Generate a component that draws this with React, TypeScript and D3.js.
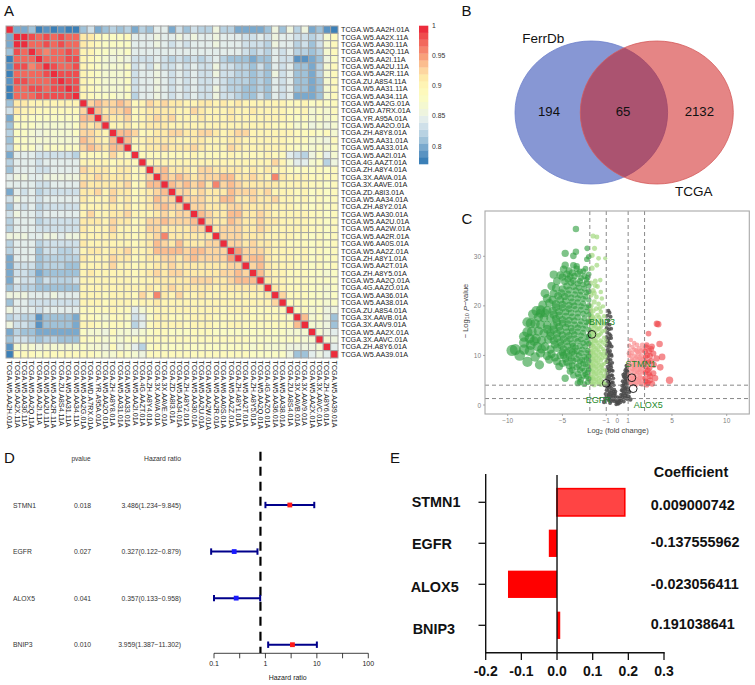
import React from "react";
import * as d3 from "d3";

const FONT = "'Liberation Sans', Arial, sans-serif";

// ---------- A: heat map ----------
const samples = [
  "TCGA.W5.AA2H.01A","TCGA.W5.AA2X.11A","TCGA.W5.AA30.11A","TCGA.W5.AA2Q.11A","TCGA.W5.AA2I.11A",
  "TCGA.W5.AA2U.11A","TCGA.W5.AA2R.11A","TCGA.ZU.A8S4.11A","TCGA.W5.AA31.11A","TCGA.W5.AA34.11A",
  "TCGA.W5.AA2G.01A","TCGA.WD.A7RX.01A","TCGA.YR.A95A.01A","TCGA.W5.AA2O.01A","TCGA.ZH.A8Y8.01A",
  "TCGA.W5.AA31.01A","TCGA.W5.AA33.01A","TCGA.W5.AA2I.01A","TCGA.4G.AAZT.01A","TCGA.ZH.A8Y4.01A",
  "TCGA.3X.AAVA.01A","TCGA.3X.AAVE.01A","TCGA.ZD.A8I3.01A","TCGA.W5.AA34.01A","TCGA.ZH.A8Y2.01A",
  "TCGA.W5.AA30.01A","TCGA.W5.AA2U.01A","TCGA.W5.AA2W.01A","TCGA.W5.AA2R.01A","TCGA.W6.AA0S.01A",
  "TCGA.W5.AA2Z.01A","TCGA.ZH.A8Y1.01A","TCGA.W5.AA2T.01A","TCGA.ZH.A8Y5.01A","TCGA.W5.AA2Q.01A",
  "TCGA.4G.AAZO.01A","TCGA.W5.AA36.01A","TCGA.W5.AA38.01A","TCGA.ZU.A8S4.01A","TCGA.3X.AAVB.01A",
  "TCGA.3X.AAV9.01A","TCGA.W5.AA2X.01A","TCGA.3X.AAVC.01A","TCGA.ZH.A8Y6.01A","TCGA.W5.AA39.01A",
];
// Upper triangle of the correlation matrix: each row starts
// at the diagonal, each letter is one step of the colour bar (a = lowest, t = 1).
const corrRows = [
  "tccdababaadfcdedecedggcfdfeeheeccccdhdhehcdba",
  "ttsrsrsrrmmkjjjkggghgghghgghgggffgfhggffefik",
  "trrsrsrrmlkjjjjggghgfgfggghgggfffehggefdfik",
  "trqrrsrlljjiijgggggggggggggggfefegfgeedeik",
  "trrrsslkjihihfffgfefefefgedddcddgffbbcdhj",
  "tsrrslkjiiijfgfhffgfgffhffeedfdgfgddceik",
  "tssslkjiiijfgghgfgfgffhffeededhfgddceik",
  "tsslkjiiijfgghgfgfgffgfeeededgfgddcdik",
  "tslkjiiijfgghgfgfgffhfeeddedgfgddcdik",
  "tlkjjjijegghgfgfgffhffeddfdgfgcccdik",
  "tnonnonklnmnmmllmmlmlmllllllkkljkjk",
  "tomnnoklmmmmllnmlllmllmllllkklijik",
  "tnmmnklmnmnlllmlllmlllllllkjkijij",
  "tllmklmmmllllllllllllllkkkijhihi",
  "toonklmmnnmmnnmlmnnllllllkkkjkik",
  "tollmmmmllmmlllmmllllllkkkiihk",
  "tklmmnmmmnmlllnmllllllkjjijij",
  "tkkkkkkklkkkklkkkklkkgfehjgi",
  "tlllllllllllllllllnliggijeh",
  "tnommmlnnmmmmlmlmllkjkjkjk",
  "tononmnnnoommnmlqmlllkkkk",
  "tononomqnonmmmmmllllkkjk",
  "tnnmnmmmonnnmnlllkljkjk",
  "tnnnmmoommnmmnllkljkjk",
  "tnnmmmnnmmmmlllkkjkjk",
  "tonmmoommnmlllllkkjk",
  "tnmmonmmnmmllllkkjk",
  "tmnnnmmnmlllllkkjk",
  "tnnnmmmllllkkjkjk",
  "tnnmnmmllkkkjkjk",
  "tpnnnmlllkljkjk",
  "tnoomlllkljkjk",
  "tnomlllkkjkjk",
  "tomllkkkjjij",
  "tmllkkkjjjj",
  "tmlkkkjjij",
  "tnkkkjjij",
  "tkkkjjij",
  "tjkijhh",
  "toijhd",
  "tiihd",
  "tihg",
  "tih",
  "tg",
  "t",
];
// Colour bar steps, lowest first.
const stepColors = [
  "#3b7fb7","#5a93c2","#7aa9cd","#9fc2d9","#b8d2e2","#cfe0e9","#e3edeb","#eef4de","#f4f8d0","#fafbc4",
  "#fdf9bc","#fef4b4","#feeaa9","#fdd6a0","#fbbd8f","#f8a07a","#f5846c","#f2685c","#ef4c4e","#ec2c3c",
];
const stepKeys = "abcdefghijklmnopqrst";
const barTicks = [1, 0.95, 0.9, 0.85, 0.8];

// ---------- B: Venn ----------
const vennNames = ["FerrDb", "TCGA"];
const vennCounts = [194, 65, 2132];

// ---------- C: volcano ----------
const volcanoXTicks = [-10, -5, -1, 0, 1, 5, 10];
const volcanoYTicks = [0, 10, 20, 30];
const fcCuts = [-2.5, -1, 1, 2.5];
const pCuts = [4, 1.3];
const downStrong: [number, number][] = [
  [-3.77,35.5],[-2.74,31.6],[-4.75,30.6],[-4.0,30.1],[-3.77,30.9],[-2.77,29.4],[-2.6,29.9],[-4.75,28.2],[-4.0,28.2],[-3.7,27.5],
  [-5.8,26.3],[-5.2,26.2],[-4.3,25.9],[-3.4,26.9],[-6.6,22.5],[-5.8,22.5],[-7.7,18.3],[-8.2,16.7],[-8.5,13.8],[-9.6,11],
  [-8.9,10],[-8.2,8.7],[-7.1,8.1],[-7.5,9.7],[-4.75,5.4],[-3.6,4.4],[-4.1,7.1],[-9.3,11.2],[-6.2,9.2],[-5.3,7.8],
  [-3.0,4.2],[-2.6,5.3],[-3.3,5.1],[-2.9,6.2],[-3.6,6.3],[-2.6,7.1],[-3.2,7.4],[-4.0,6.0],[-3.7,7.6],[-2.9,8.2],
  [-4.4,7.9],[-2.6,8.9],[-3.4,8.8],[-4.0,8.9],[-5.0,8.4],[-4.7,9.3],[-2.6,9.9],[-3.0,9.7],[-3.5,10.0],[-3.9,10.4],
  [-4.4,9.9],[-5.2,10.0],[-5.7,9.6],[-6.4,9.9],[-7.0,10.5],[-8.0,10.9],[-8.5,11.2],[-2.7,11],[-3.2,11.2],[-3.8,11.6],
  [-4.3,11.1],[-4.9,11.3],[-5.5,11.5],[-6.1,11.2],[-6.6,11.8],[-7.3,11.8],[-7.9,12.1],[-2.6,12.4],[-3.1,12.5],[-3.6,12.9],
  [-4.1,12.4],[-4.6,12.8],[-5.2,12.7],[-5.8,13],[-6.3,13.2],[-6.9,13],[-7.4,13.4],[-8.0,13.4],[-2.8,13.7],[-3.3,14],
  [-3.9,14.2],[-4.4,14],[-5.0,14.1],[-5.5,14.4],[-6.1,14.6],[-6.7,14.5],[-7.2,14.9],[-7.8,14.8],[-2.6,15.2],[-3.1,15.4],
  [-3.6,15.6],[-4.2,15.5],[-4.7,15.7],[-5.3,15.8],[-5.8,16],[-6.4,16.1],[-7.0,16.2],[-7.5,16.4],[-2.8,16.7],[-3.3,16.9],
  [-3.9,17],[-4.4,17.1],[-5.0,17.2],[-5.6,17.4],[-6.1,17.5],[-6.7,17.6],[-7.2,17.7],[-2.6,18.2],[-3.1,18.4],[-3.6,18.5],
  [-4.2,18.6],[-4.7,18.8],[-5.3,18.9],[-5.9,19],[-6.4,19.1],[-2.8,19.7],[-3.3,19.9],[-3.9,20],[-4.4,20.1],[-5,20.3],
  [-5.6,20.4],[-6.2,20.6],[-6.8,20.2],[-2.6,21.2],[-3.1,21.4],[-3.6,21.5],[-4.2,21.6],[-4.8,21.9],[-5.4,22],[-2.8,22.7],
  [-3.3,22.9],[-3.8,23.1],[-4.4,23.2],[-5.0,23.4],[-5.6,23.6],[-2.6,24],[-3.1,24.3],[-3.6,24.5],[-4.2,24.7],[-4.8,24.9],
  [-2.8,25.3],[-3.3,25.6],[-3.9,26],[-5.5,25],[-5.0,25.8],[-2.6,26.4],[-3.1,27],[-4.4,27.1],[-4.9,27.4],[-3.7,28],
  [-2.7,4.6],[-3.4,4.6],[-2.8,5.7],[-3.1,5.9],[-3.5,5.6],[-2.7,6.6],[-3.4,7],[-3.0,6.9],[-4.3,6.8],[-2.7,7.8],
  [-3.5,8],[-3.1,8.4],[-4.1,8],[-4.6,8.6],[-2.8,9.3],[-3.2,9.1],[-3.7,9.3],[-4.2,9.4],[-4.9,10],[-5.5,8.8],
  [-2.8,10.5],[-3.3,10.5],[-3.7,10.9],[-4.1,10.7],[-4.6,10.6],[-5.0,10.6],[-2.9,11.8],[-3.4,11.9],[-4.0,11.9],[-4.5,11.9],
  [-5.1,12],[-5.7,12.2],[-2.8,12.9],[-3.3,13.2],[-3.8,13.4],[-4.3,13.3],[-4.9,13.3],[-5.5,13.5],[-6.1,13.9],[-2.6,13.9],
  [-3.1,14.6],[-3.6,14.8],[-4.1,14.9],[-4.6,14.7],[-5.2,15],[-5.8,15.2],[-6.4,15.3],[-2.9,16],[-3.4,16.2],[-3.9,16.2],
  [-4.5,16.4],[-5,16.5],[-5.5,16.7],[-2.6,16.9],[-3,17.5],[-3.6,17.7],[-4.1,17.8],[-4.7,17.9],[-5.3,18.1],[-5.8,18.2],
  [-2.8,18.9],[-3.3,19.2],[-3.8,19.3],[-4.4,19.4],[-5,19.6],[-5.6,19.7],[-2.6,20],[-3.1,20.5],[-3.6,20.7],[-4.1,20.8],
  [-4.7,21],[-5.2,21.2],[-5.9,21.2],[-2.9,21.9],[-3.4,22.2],[-3.9,22.3],[-4.5,22.4],[-5.1,22.6],[-2.6,22.9],[-3,23.5],
  [-3.5,23.7],[-4,23.9],[-4.6,24],[-2.8,24.6],[-3.4,25],[-4.0,25.1],[-4.5,25.4],[-2.7,25.7],[-3.0,26],[-3.6,26.5],
  [-4.1,26.7],[-2.9,27.5],[-4.6,26.4],[-6.0,24],[-6.4,21.5],[-7,19.2],[-7.4,19],[-7,18.5],[-6.6,18.6],[-7.9,16.5],
  [-8.2,14.7],[-8.5,12.6],[-7.6,12.9],[-6.9,11.3],[-6,10.3],
];
const downWeak: [number, number][] = [
  [-2.2,34.1],[-1.85,33.9],[-2.07,31.6],[-2.3,30.2],[-1.7,29.6],[-1.1,29.6],[-1.86,28.2],[-2.3,27.6],[-1.55,25.2],[-2.0,25],
  [-2.4,24.6],[-1.8,23.9],[-2.2,23.1],[-1.5,22.8],[-2.4,22.2],[-1.9,21.8],[-1.4,21.5],[-2.1,20.8],[-1.7,20.4],[-2.4,20],
  [-1.3,19.9],[-1.9,19.4],[-2.2,19],[-1.5,18.8],[-2.4,18.2],[-1.8,18.1],[-1.2,17.9],[-2.1,17.4],[-1.5,17.2],[-2.4,16.8],
  [-1.8,16.6],[-1.2,16.3],[-2.1,16],[-1.5,15.8],[-2.4,15.3],[-1.8,15.2],[-1.1,15],[-2.1,14.6],[-1.5,14.4],[-2.4,13.9],
  [-1.8,13.8],[-1.2,13.6],[-2.1,13.1],[-1.5,13],[-2.4,12.6],[-1.8,12.5],[-1.1,12.2],[-2.1,11.8],[-1.5,11.7],[-2.4,11.2],
  [-1.8,11.1],[-1.2,10.9],[-2.1,10.5],[-1.5,10.3],[-2.4,9.9],[-1.8,9.8],[-1.1,9.6],[-2.1,9.2],[-1.5,9],[-2.4,8.6],
  [-1.8,8.5],[-1.2,8.3],[-2.1,7.9],[-1.5,7.7],[-2.4,7.3],[-1.8,7.2],[-1.1,7],[-2.1,6.6],[-1.5,6.4],[-2.4,6],
  [-1.8,5.9],[-1.2,5.7],[-2.1,5.3],[-1.5,5.1],[-2.4,4.7],[-1.8,4.6],[-1.2,4.4],[-2.1,4.1],[-1.5,4.1],[-1.0,8.8],
  [-1.95,12.9],[-1.65,9.4],[-2.25,6.9],[-1.35,6.9],[-1.95,15.7],[-1.3,11.3],[-2.25,14.9],[-1.65,14.1],[-1.35,8.1],[-1.95,5],
  [-2.25,17.8],[-1.65,17.7],[-1.35,16.7],[-2.25,16.3],[-1.65,15.4],[-2.25,13.6],[-1.35,14.9],[-1.95,14.2],[-1.35,12.6],[-1.65,12],
  [-2.25,12.2],[-1.95,11.4],[-1.35,10.2],[-1.95,10.1],[-2.25,10.8],[-1.65,10.7],[-2.25,9.5],[-1.35,9.5],[-1.95,8.9],[-1.65,8.1],
  [-2.25,8.2],[-1.35,7.4],[-1.95,7.6],[-2.25,5.6],[-1.65,6.8],[-1.35,5.9],[-1.95,6.3],[-1.65,5.4],[-1.35,4.7],[-2.25,4.3],
  [-1.65,4.3],[-1.05,6.3],[-1.05,10.2],[-1.05,13],[-1.05,4.2],[-2.45,5.3],[-2.45,7.9],[-2.45,10.5],[-2.45,12.1],[-2.45,14.6],
  [-2.45,17.4],[-2.45,19.1],[-1.6,19.5],[-2.1,22.6],[-2,24.1],
];
const flatGenes: [number, number][] = [
  [-0.8,19],[-0.7,18.6],[-0.9,18],[-0.6,17.8],[-0.8,17.1],[-0.9,16.4],[-0.7,16.2],[-0.95,15.5],[-0.75,15.3],[-0.55,15.4],
  [-0.9,14.6],[-0.7,14.3],[-0.95,13.7],[-0.75,13.4],[-0.55,13.5],[-0.9,12.8],[-0.7,12.5],[-0.95,12],[-0.75,11.7],[-0.5,11.8],
  [-0.9,11.1],[-0.65,10.9],[-0.95,10.3],[-0.75,10],[-0.5,9.9],[-0.85,9.4],[-0.6,9.1],[-0.95,8.7],[-0.7,8.3],[-0.45,8.5],
  [-0.85,7.7],[-0.55,7.6],[-0.95,7],[-0.7,6.8],[-0.4,6.9],[-0.85,6.2],[-0.55,6],[-0.95,5.5],[-0.65,5.2],[-0.35,5.4],
  [-0.85,4.7],[-0.5,4.5],[-0.95,4],[-0.7,3.7],[-0.3,4],[-0.5,3.4],[-0.25,3.1],[-0.95,3],[-0.7,2.6],[-0.45,2.4],
  [-0.2,2.3],[-1.05,2.2],[-0.85,1.9],[-0.6,1.6],[-0.35,1.5],[-0.15,1.6],[0.05,1.6],[-1.1,1.3],[-0.8,1],[-0.5,0.8],
  [-0.25,0.7],[0,0.5],[0.2,0.8],[0.4,1],[0.25,1.5],[0.05,0.2],[-0.1,0.1],[0.15,0.25],[0.5,1.6],[0.7,1.4],
  [0.9,1.2],[1.05,1.7],[0.35,2.1],[0.6,2.4],[0.85,2.3],[1.1,2.6],[0.4,3],[0.7,3.3],[0.95,3.2],[0.45,3.9],
  [0.75,4.2],[0.95,4.4],[0.5,4.8],[0.8,5.2],[0.6,5.7],[0.9,5.8],[0.7,6.4],[0.95,6.7],[0.85,7.3],[0.95,8],
  [0.75,7],[0.55,6.1],[-0.2,2],[0.15,1.1],[-0.4,2],[0.3,0.5],[-0.65,0.4],[0.6,0.7],[-1.2,0.6],[1.2,1.1],
  [-0.85,13],[-0.6,14],[-0.8,10.6],[-0.65,12.2],[-0.55,10.2],[-0.8,8.9],[-0.6,8],[-0.75,7.2],[-0.5,7],[-0.75,5.7],
  [-0.45,6],[-0.75,4.4],[-0.4,4.6],[-0.6,4],[-0.85,3.3],[-0.55,2.9],[-0.35,2.7],[-0.15,2.7],[-0.75,2.2],[-0.55,2],
  [-0.95,1.6],[-0.7,1.2],[-0.4,1.1],[-0.15,1],[-0.05,0.6],[0.1,0.7],[0.3,1.3],[0.5,2],[0.75,1.9],[0.95,1.7],
  [0.5,2.8],[0.75,2.8],[0.55,3.4],[0.85,3.6],[0.6,4.3],[0.7,4.8],[0.9,4.9],[0.7,5.5],[0.85,6.2],[0.65,3.9],
  [0.9,6.9],[0.85,7.9],
];
const upWeak: [number, number][] = [
  [1.25,13.1],[1.55,12.5],[1.1,12],[1.8,12.1],[2.3,12.1],[1.4,11.7],[2.0,11.4],[1.15,11],[1.7,11],[2.35,11.1],
  [1.35,10.5],[1.95,10.4],[1.1,9.9],[1.6,9.9],[2.2,9.9],[1.35,9.3],[1.85,9.2],[2.4,9.2],[1.1,8.8],[1.6,8.6],
  [2.1,8.6],[1.3,8.1],[1.85,7.9],[2.35,8],[1.1,7.5],[1.55,7.3],[2.1,7.3],[1.3,6.8],[1.8,6.7],[2.4,6.6],
  [1.1,6.2],[1.55,6],[2.05,6],[1.3,5.4],[1.75,5.3],[2.3,5.3],[1.1,4.9],[1.5,4.7],[2.0,4.7],[1.3,4.2],
  [1.75,4.1],[2.3,4.2],[1.55,11.2],[1.85,10.7],[2.15,10.9],[1.25,10],[1.75,9.6],[2.05,9.6],[1.45,9],[2.2,9],
  [1.75,8.4],[1.45,7.9],[2.2,7.9],[1.15,8.2],[1.65,7.6],[1.95,7.1],[1.4,7.2],[2.25,6.9],[1.6,6.5],[1.95,6.4],
  [1.2,5.8],[1.65,5.6],[2.1,5.5],[1.45,5.2],[1.95,5],[1.2,4.5],[1.65,4.4],[2.15,4.4],[1.05,10.4],[1.05,8],
];
const upStrong: [number, number][] = [
  [3.62,16.4],[3.75,16.3],[2.86,14.4],[3.87,12.3],[3.17,11.8],[4.78,5.0],[4.1,9.7],[3.93,7.6],[2.7,12.1],[2.56,10.8],
  [3.3,10.4],[3.6,9.4],[2.86,8.7],[2.6,7.6],[3.3,6.4],[2.56,5.4],[3.0,5.0],[3.47,5.4],[2.9,6.3],[2.6,9.7],
  [3.0,9.9],[3.35,8.1],[2.6,6.5],[2.8,4.5],[3.2,4.3],[2.65,11.7],[2.95,7.4],[3.1,11.3],[2.7,4.1],[2.9,10.9],
  [2.6,8.6],[3.1,8.9],[2.75,10],[2.6,4.8],[3.0,5.8],[2.8,7],
];
const namedGenes = ["BNIP3", "EGFR", "STMN1", "ALOX5"];
const namedFC = [-2.31, -1.0, 1.34, 1.46];
const namedP = [14.25, 4.37, 5.5, 3.3];

// ---------- D: forest ----------
const forestGenes = ["STMN1", "EGFR", "ALOX5", "BNIP3"];
const forestP = ["0.018", "0.027", "0.041", "0.010"];
const forestHR = ["3.486(1.234\u22129.845)", "0.327(0.122\u22120.879)", "0.357(0.133\u22120.958)", "3.959(1.387\u221211.302)"];
const forestMid = [2.98, 0.247, 0.27, 3.35];
const forestLow = [1.0, 0.088, 0.1, 1.13];
const forestHigh = [8.9, 0.7, 0.79, 10];
const forestTicks = [0.1, 0.316, 1, 3.16, 10, 31.6, 100];
const forestLabels = [0.1, 1, 10, 100];
const forestRef = 0.8;

// ---------- E: coefficients ----------
const coefGenes = ["STMN1", "EGFR", "ALOX5", "BNIP3"];
const coefBars = [0.19, -0.023, -0.1375, 0.009];
const coefTexts = ["0.009000742", "-0.137555962", "-0.023056411", "0.191038641"];
const coefTicks = [-0.2, -0.1, 0, 0.1, 0.2, 0.3];

export default function App() {
  // heat map
  const n = samples.length;
  const band = d3.scaleBand<number>().domain(d3.range(n)).range([0, 332]);
  const color = (k: string) => stepColors[stepKeys.indexOf(k)] ?? stepColors[11];
  const level = (i: number, j: number) => {
    const a = Math.min(i, j), b = Math.max(i, j);
    return corrRows[a]?.[b - a] ?? "l";
  };
  const barY = d3.scaleLinear().domain([1, 0.8]).range([25.7, 146]);
  const stepH = (164 - 25.7) / stepColors.length;

  // volcano
  const vx = d3.scaleLinear().domain([-10, 10]).range([507.7, 726.7]);
  const vy = d3.scaleLinear().domain([0, 30]).range([405, 256.3]);
  const vr = d3.scaleLinear().domain([0, 10]).range([1.7, 5.8]);
  const groups: { pts: [number, number][]; fill: string; op: number }[] = [
    { pts: flatGenes, fill: "#4a4a4a", op: 0.85 },
    { pts: downWeak, fill: "#a3d87f", op: 0.7 },
    { pts: upWeak, fill: "#f98f90", op: 0.7 },
    { pts: downStrong, fill: "#2f9e3f", op: 0.62 },
    { pts: upStrong, fill: "#ee3f45", op: 0.6 },
  ];
  const namedDx = [10, -8, 9, 15];
  const namedDy = [-12.5, 17, -14, 16.5];

  // forest
  const fx = d3.scaleLog().domain([0.1, 100]).range([214, 368.3]);
  const fy = d3.scalePoint<number>().domain([0, 1, 2, 3]).range([505, 644.7]);

  // coefficient bars
  const cx = d3.scaleLinear().domain([-0.2, 0.3]).range([485.7, 664]);
  const cy = d3.scalePoint<number>().domain([0, 1, 2, 3]).range([502.3, 625.3]);
  const coefLabelX = [411.7, 412, 410.7, 412.7];
  const coefLabelY = [502, 544, 587, 629];
  const coefTextY = [504.7, 542.3, 584, 624.3];

  const panel = (t: string, x: number, y: number) => (
    <text x={x} y={y} fontSize={15} fill="#111" dominantBaseline="central">{t}</text>
  );

  return (
    <svg width={755} height={685} viewBox="0 0 755 685" fontFamily={FONT}
      style={{ position: "absolute", left: 0, top: 0, display: "block", background: "#fff" }}>
      {panel("A", 4, 10.5)}
      {panel("B", 461.5, 10)}
      {panel("C", 461.5, 218)}
      {panel("D", 4, 457.5)}
      {panel("E", 390, 457.5)}

      {/* A */}
      <g transform="translate(6,26)">
        {d3.range(n).map((i) => d3.range(n).map((j) => (
          <rect key={i + "-" + j} x={band(j)} y={band(i)} width={band.bandwidth()} height={band.bandwidth()}
            fill={color(level(i, j))} stroke="#a3a3a3" strokeWidth={1} />
        )))}
      </g>
      {samples.map((s, i) => (
        <text key={"r" + i} x={341} y={26 + band(i)! + band.bandwidth() / 2} fontSize={7.2} fill="#222" dominantBaseline="central">{s}</text>
      ))}
      {samples.map((s, i) => {
        const x = 6 + band(i)! + band.bandwidth() / 2;
        return (
          <text key={"c" + i} transform={`translate(${x},360.5) rotate(90)`} fontSize={7.2} fill="#222" dominantBaseline="central">{s}</text>
        );
      })}
      {stepColors.map((c, i) => (
        <rect key={c} x={419} y={164 - (i + 1) * stepH} width={9.3} height={stepH + 0.3} fill={c} />
      ))}
      {barTicks.map((t) => (
        <text key={t} x={432} y={barY(t)} fontSize={6.8} fill="#333" dominantBaseline="central">{t}</text>
      ))}

      {/* B */}
      <ellipse cx={591.3} cy={112.5} rx={76.3} ry={71.5} fill="#8797d4" stroke="#6f82cc" strokeWidth={0.8} />
      <ellipse cx={656.8} cy={112.5} rx={76.5} ry={71.5} fill="#cd1515" fillOpacity={0.52} stroke="#d45a5a" strokeWidth={0.8} />
      <text x={522.3} y={43} fontSize={13.5} fill="#111">{vennNames[0]}</text>
      <text x={693.7} y={195.5} fontSize={13.5} fill="#111" textAnchor="middle">{vennNames[1]}</text>
      {vennCounts.map((c, i) => (
        <text key={c} x={[549, 623, 699.3][i]} y={111.7} fontSize={13.2} fill="#111" textAnchor="middle" dominantBaseline="central">{c}</text>
      ))}

      {/* C */}
      {groups.map((g, gi) => (
        <g key={gi} fill={g.fill} fillOpacity={g.op}>
          {g.pts.map((p, i) => (
            <circle key={i} cx={vx(p[0])} cy={vy(p[1])} r={vr(Math.abs(p[0]))} />
          ))}
        </g>
      ))}
      {fcCuts.map((c) => (
        <line key={c} x1={vx(c)} x2={vx(c)} y1={211} y2={414} stroke="#7a7a7a" strokeWidth={0.9} strokeDasharray="4 3" />
      ))}
      {pCuts.map((c) => (
        <line key={c} x1={485} x2={749.3} y1={vy(c)} y2={vy(c)} stroke="#7a7a7a" strokeWidth={0.9} strokeDasharray="4 3" />
      ))}
      <rect x={485} y={211} width={264.3} height={203} fill="none" stroke="#a8a8a8" strokeWidth={1.1} />
      {namedGenes.map((g, i) => (
        <g key={g}>
          <circle cx={vx(namedFC[i])} cy={vy(namedP[i])} r={3.9} fill="none" stroke="#111" strokeWidth={0.9} />
          <text x={vx(namedFC[i]) + namedDx[i]} y={vy(namedP[i]) + namedDy[i]} fontSize={9} fill="#1e8a2c" textAnchor="middle" dominantBaseline="central">{g}</text>
        </g>
      ))}
      {volcanoXTicks.map((t) => (
        <g key={t}>
          <line x1={vx(t)} x2={vx(t)} y1={414} y2={416} stroke="#888" strokeWidth={0.7} />
          <text x={vx(t)} y={420.5} fontSize={6.5} fill="#808080" textAnchor="middle" dominantBaseline="central">{t < 0 ? "\u2212" + -t : t}</text>
        </g>
      ))}
      {volcanoYTicks.map((t) => (
        <g key={t}>
          <line x1={483} x2={485} y1={vy(t)} y2={vy(t)} stroke="#888" strokeWidth={0.7} />
          <text x={481} y={vy(t)} fontSize={6.5} fill="#808080" textAnchor="end" dominantBaseline="central">{t}</text>
        </g>
      ))}
      <text x={618} y={430} fontSize={7.5} fill="#444" textAnchor="middle" dominantBaseline="central">
        Log<tspan fontSize={5.5} dy={1.5}>2</tspan><tspan dy={-1.5}> (fold change)</tspan>
      </text>
      <text transform="translate(465.7,311) rotate(-90)" fontSize={7.5} fill="#444" textAnchor="middle" dominantBaseline="central">
        {"\u2212 Log"}<tspan fontSize={5.5} dy={1.5}>10</tspan><tspan dy={-1.5}> </tspan><tspan fontStyle="italic">P</tspan>{"\u2212value"}
      </text>

      {/* D */}
      <text x={81} y={458} fontSize={6.5} fill="#333" textAnchor="middle" dominantBaseline="central">pvalue</text>
      <text x={181} y={458.5} fontSize={6.8} fill="#333" textAnchor="end" dominantBaseline="central">Hazard ratio</text>
      {forestGenes.map((g, i) => (
        <g key={g}>
          <text x={13} y={fy(i)} fontSize={6.8} fill="#333" dominantBaseline="central">{g}</text>
          <text x={82.5} y={fy(i)} fontSize={6.8} fill="#333" textAnchor="middle" dominantBaseline="central">{forestP[i]}</text>
          <text x={181} y={fy(i)} fontSize={6.8} fill="#333" textAnchor="end" dominantBaseline="central">{forestHR[i]}</text>
        </g>
      ))}
      <line x1={fx(forestRef)} x2={fx(forestRef)} y1={451.7} y2={653} stroke="#000" strokeWidth={2.2} strokeDasharray="9 6" />
      {forestGenes.map((g, i) => {
        const y = fy(i)!;
        return (
          <g key={g} stroke="#00008b" strokeWidth={2}>
            <line x1={fx(forestLow[i])} x2={fx(forestHigh[i])} y1={y} y2={y} />
            <line x1={fx(forestLow[i])} x2={fx(forestLow[i])} y1={y - 3.2} y2={y + 3.2} />
            <line x1={fx(forestHigh[i])} x2={fx(forestHigh[i])} y1={y - 3.2} y2={y + 3.2} />
            <rect x={fx(forestMid[i]) - 2.4} y={y - 2.4} width={4.8} height={4.8} stroke="none"
              fill={forestMid[i] > 1 ? "#ff1a1a" : "#1a1aff"} />
          </g>
        );
      })}
      <line x1={214} x2={368.3} y1={653.3} y2={653.3} stroke="#111" strokeWidth={0.8} />
      {forestTicks.map((t) => (
        <line key={t} x1={fx(t)} x2={fx(t)} y1={653.3} y2={658.3} stroke="#111" strokeWidth={0.8} />
      ))}
      {forestLabels.map((t) => (
        <text key={t} x={fx(t)} y={663.5} fontSize={7} fill="#222" textAnchor="middle" dominantBaseline="central">{t}</text>
      ))}
      <text x={287.7} y={677} fontSize={7} fill="#222" textAnchor="middle" dominantBaseline="central">Hazard ratio</text>

      {/* E */}
      {coefGenes.map((g, i) => {
        const v = coefBars[i];
        const x0 = cx(Math.min(0, v)), x1 = cx(Math.max(0, v));
        const h = 27.3;
        return (
          <g key={g}>
            <rect x={x0} y={cy(i)! - h / 2} width={x1 - x0} height={h} fill={i === 0 ? "#ff4444" : "#ff0000"}
              stroke={i === 0 ? "#ff0000" : "none"} strokeWidth={i === 0 ? 1.6 : 0} />
            <line x1={478.5} x2={485.7} y1={cy(i)} y2={cy(i)} stroke="#111" strokeWidth={1.3} />
            <text x={coefLabelX[i]} y={coefLabelY[i]} fontSize={14.4} fontWeight={700} fill="#111" dominantBaseline="central">{g}</text>
            <text x={650.7} y={coefTextY[i]} fontSize={14.4} fontWeight={700} fill="#111" dominantBaseline="central">{coefTexts[i]}</text>
          </g>
        );
      })}
      <line x1={485.7} x2={485.7} y1={474} y2={653.3} stroke="#111" strokeWidth={1.4} />
      <line x1={cx(0)} x2={cx(0)} y1={475} y2={653.3} stroke="#111" strokeWidth={1.4} />
      <line x1={485} x2={664.7} y1={652.7} y2={652.7} stroke="#111" strokeWidth={1.4} />
      {coefTicks.map((t) => (
        <g key={t}>
          <line x1={cx(t)} x2={cx(t)} y1={652.7} y2={660} stroke="#111" strokeWidth={1.3} />
          <text x={cx(t)} y={671} fontSize={14} fontWeight={700} fill="#111" textAnchor="middle" dominantBaseline="central">{t.toFixed(1)}</text>
        </g>
      ))}
      <text x={691} y={472} fontSize={14.4} fontWeight={700} fill="#111" textAnchor="middle" dominantBaseline="central">Coefficient</text>
    </svg>
  );
}
